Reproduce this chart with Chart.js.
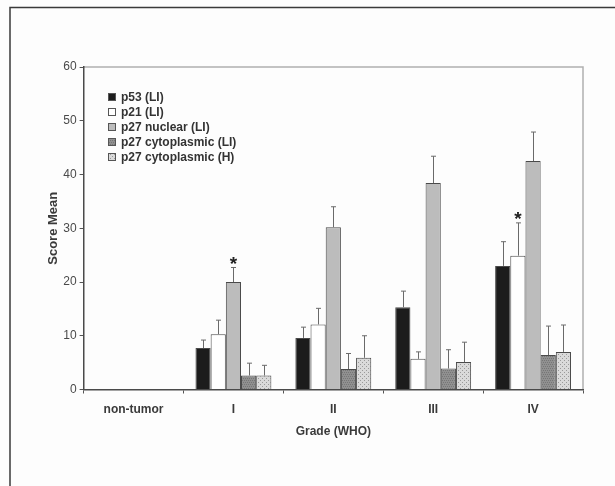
<!DOCTYPE html>
<html><head><meta charset="utf-8">
<script src="https://cdn.jsdelivr.net/npm/chart.js@4/dist/chart.umd.min.js"></script>
<style>html,body{margin:0;padding:0;background:#fdfdfd}#wrap{width:615px;height:486px}</style>
</head><body><div id="wrap"><canvas id="c" width="615" height="486"></canvas></div>
<script>
const categories = ['non-tumor', 'I', 'II', 'III', 'IV'];
const seriesNames = ['p53 (LI)', 'p21 (LI)', 'p27 nuclear (LI)', 'p27 cytoplasmic (LI)', 'p27 cytoplasmic (H)'];
const p53 = [null, 7.7, 9.6, 15.3, 23.0];
const p53Err = [null, 1.5, 2.0, 3.0, 4.5];
const p21 = [null, 10.3, 12.1, 5.7, 24.9];
const p21Err = [null, 2.6, 3.0, 1.3, 6.1];
const p27Nuclear = [null, 20.0, 30.2, 38.4, 42.5];
const p27NuclearErr = [null, 2.7, 3.8, 5.0, 5.4];
const p27CytLI = [null, 2.6, 3.8, 3.9, 6.4];
const p27CytLIErr = [null, 2.3, 2.9, 3.5, 5.4];
const p27CytH = [null, 2.6, 5.9, 5.1, 7.0];
const p27CytHErr = [null, 1.9, 4.1, 3.7, 5.0];
const yTicks = [0, 10, 20, 30, 40, 50, 60];
// significance markers: [series index, category index]
const significance = [[2, 1], [1, 4]];

function makePattern(base, dot, kind) {
  const c = document.createElement('canvas');
  c.width = 4; c.height = 4;
  const g = c.getContext('2d');
  g.fillStyle = base; g.fillRect(0, 0, 4, 4);
  g.fillStyle = dot;
  if (kind === 'hatch') {
    g.fillRect(0, 0, 1, 1); g.fillRect(2, 0, 1, 1); g.fillRect(1, 2, 1, 1); g.fillRect(3, 2, 1, 1);
  } else {
    g.fillRect(0, 0, 1, 1); g.fillRect(2, 2, 1, 1);
  }
  return g.createPattern(c, 'repeat');
}
const fills = ['#1c1c1c', '#ffffff', '#bcbcbc',
  makePattern('#909090', '#767676', 'hatch'),
  makePattern('#dadada', '#9a9a9a', 'dots')];
const values = [p53, p21, p27Nuclear, p27CytLI, p27CytH];
const errors = [p53Err, p21Err, p27NuclearErr, p27CytLIErr, p27CytHErr];

const framePlugin = {
  id: 'frame',
  beforeDraw(chart) {
    const ctx = chart.ctx;
    ctx.save();
    ctx.fillStyle = '#fdfdfd';
    ctx.fillRect(0, 0, chart.width, chart.height);
    ctx.strokeStyle = '#3a3a3a'; ctx.lineWidth = 1.5;
    ctx.beginPath();
    ctx.moveTo(10, chart.height); ctx.lineTo(10, 7.5); ctx.lineTo(chart.width, 7.5);
    ctx.stroke();
    const a = chart.chartArea;
    ctx.strokeStyle = '#b0b0b0'; ctx.lineWidth = 1.5;
    ctx.beginPath();
    ctx.moveTo(a.left, a.top); ctx.lineTo(a.right, a.top); ctx.lineTo(a.right, a.bottom);
    ctx.stroke();
    ctx.restore();
  },
  afterDatasetsDraw(chart) {
    const ctx = chart.ctx;
    const ys = chart.scales.y;
    ctx.save();
    ctx.strokeStyle = '#6a6a6a'; ctx.lineWidth = 1;
    chart.data.datasets.forEach((ds, i) => {
      const meta = chart.getDatasetMeta(i);
      ds.data.forEach((v, j) => {
        if (v == null) return;
        const bar = meta.data[j];
        const x = Math.round(bar.x) + 0.5;
        const yTop = ys.getPixelForValue(v + errors[i][j]);
        ctx.beginPath();
        ctx.moveTo(x, bar.y); ctx.lineTo(x, yTop);
        ctx.moveTo(x - 2.5, yTop); ctx.lineTo(x + 2.5, yTop);
        ctx.stroke();
      });
    });
    ctx.fillStyle = '#222';
    ctx.font = 'bold 19px "Liberation Sans", Arial, sans-serif';
    ctx.textAlign = 'center'; ctx.textBaseline = 'middle';
    significance.forEach(([i, j]) => {
      const bar = chart.getDatasetMeta(i).data[j];
      const yTop = ys.getPixelForValue(values[i][j] + errors[i][j]);
      ctx.fillText('*', bar.x, yTop - 3);
    });
    // legend
    ctx.font = 'bold 12px "Liberation Sans", Arial, sans-serif';
    ctx.textAlign = 'left';
    chart.data.datasets.forEach((ds, i) => {
      const cy = 97 + i * 15;
      ctx.fillStyle = ds.backgroundColor;
      ctx.fillRect(108, cy - 4, 8, 8);
      ctx.strokeStyle = '#555'; ctx.lineWidth = 1;
      ctx.strokeRect(108.5, cy - 3.5, 7, 7);
      ctx.fillStyle = '#333';
      ctx.fillText(ds.label, 121, cy + 1);
    });
    ctx.restore();
  }
};

new Chart(document.getElementById('c'), {
  type: 'bar',
  data: {
    labels: categories,
    datasets: seriesNames.map((n, i) => ({
      label: n,
      data: values[i],
      backgroundColor: fills[i],
      borderColor: '#4a4a4a',
      borderWidth: 1,
      categoryPercentage: 0.76,
      barPercentage: 1.0
    }))
  },
  options: {
    responsive: false,
    devicePixelRatio: 1,
    animation: false,
    layout: { padding: { left: 20, right: 32, top: 67, bottom: 0 } },
    plugins: { legend: { display: false }, tooltip: { enabled: false } },
    scales: {
      x: {
        grid: { offset: true, drawOnChartArea: false, tickLength: 4, color: '#555' },
        border: { color: '#4a4a4a', width: 1.5 },
        ticks: { color: '#3a3a3a', padding: 9, font: { family: '"Liberation Sans", Arial, sans-serif', size: 12, weight: 'bold' } },
        title: { display: true, text: 'Grade (WHO)', color: '#3a3a3a', padding: { top: 0, bottom: 47 },
          font: { family: '"Liberation Sans", Arial, sans-serif', size: 12, weight: 'bold' } },
        afterFit(s) { s.height = 96.5; }
      },
      y: {
        min: 0, max: 60,
        afterBuildTicks(s) { s.ticks = yTicks.map(v => ({ value: v })); },
        grid: { drawOnChartArea: false, tickLength: 4, color: '#555' },
        border: { color: '#4a4a4a', width: 1.5 },
        ticks: { color: '#4a4a4a', padding: 3, font: { family: '"Liberation Sans", Arial, sans-serif', size: 12 } },
        title: { display: true, text: 'Score Mean', color: '#3a3a3a', padding: { top: 26, bottom: 0 },
          font: { family: '"Liberation Sans", Arial, sans-serif', size: 13, weight: 'bold' } },
        afterFit(s) { s.width = 63.6; }
      }
    }
  },
  plugins: [framePlugin]
});
</script>
</body></html>
